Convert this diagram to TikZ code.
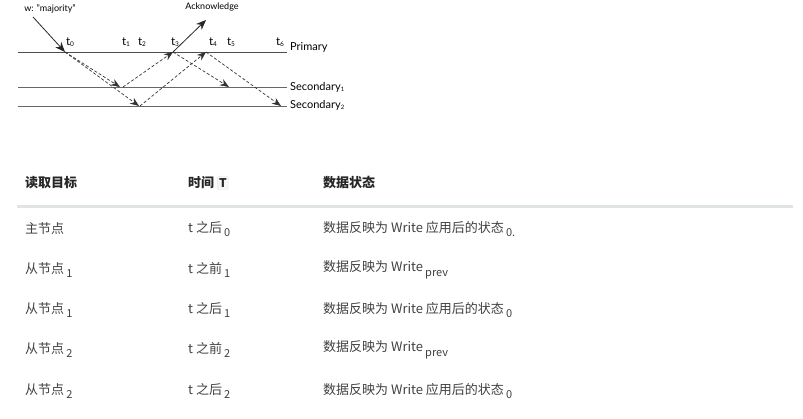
\documentclass[tikz,border=0pt]{standalone}
\usepackage{fontspec}
\setmainfont{Lato}
\newfontfamily\cjk{Noto Sans CJK SC}
\usetikzlibrary{arrows.meta}
\definecolor{txt}{HTML}{404040}
\definecolor{rulec}{HTML}{E1E4E5}
\definecolor{codebg}{HTML}{F5F6F6}
\tikzset{
  lane/.style={draw=black!70, line width=0.9pt},
  msg/.style={draw=black!80, dash pattern=on 3pt off 2pt, line width=0.7pt, -{Stealth[length=9pt,width=7pt]}},
  solidarr/.style={draw=black!85, line width=0.8pt, -{Stealth[length=10pt,width=8pt]}},
  dlabel/.style={font=\fontsize{11}{12}\selectfont, inner sep=0pt},
  tlabel/.style={font=\fontsize{11.5}{12}\selectfont, inner sep=0pt},
  cell/.style={anchor=west, inner sep=0pt, text=txt, font=\cjk\fontsize{13}{15}\selectfont},
  headcell/.style={anchor=west, inner sep=0pt, text=black!85, font=\cjk\bfseries\fontsize{13}{15}\selectfont},
}
\newcommand\tsub[1]{t\raisebox{-0.5pt}{\fontsize{6.5}{6.5}\selectfont #1}}
\newcommand\lsub[1]{\raisebox{-1.5pt}{\fontsize{6}{6}\selectfont #1}}
\newcommand\csub[1]{\,\raisebox{-4.5pt}{\fontsize{11}{11}\selectfont #1}}
\begin{document}
\begin{tikzpicture}[x=1pt,y=-1pt]
\useasboundingbox (0,0) rectangle (803,418);
% ---- diagram ----
\coordinate (pL) at (18,52);  \coordinate (pR) at (287,52);
\coordinate (s1L) at (18,87); \coordinate (s1R) at (287,87);
\coordinate (s2L) at (18,106); \coordinate (s2R) at (287,106);
\draw[lane] (pL) -- (pR);
\draw[lane,draw=black!60] (s1L) -- (s1R);
\draw[lane,draw=black!60] (s2L) -- (s2R);
\node[dlabel, anchor=west] (lp) at (290,47) {Primary};
\node[dlabel, anchor=west] (ls1) at (290,87) {Secondary\lsub{1}};
\node[dlabel, anchor=west] (ls2) at (290,105) {Secondary\lsub{2}};

\node[tlabel] (t0) at (70,42) {\tsub{0}};
\node[tlabel] (t1) at (126,42) {\tsub{1}};
\node[tlabel] (t2) at (142,42) {\tsub{2}};
\node[tlabel] (t3) at (175,42) {\tsub{3}};
\node[tlabel] (t4) at (213,42) {\tsub{4}};
\node[tlabel] (t5) at (231,42) {\tsub{5}};
\node[tlabel] (t6) at (280,42) {\tsub{6}};

\node[dlabel, font=\fontsize{9}{10}\selectfont] (w) at (50,9) {w: "majority"};
\node[dlabel, font=\fontsize{9}{10}\selectfont] (ack) at (212,7) {Acknowledge};
\coordinate (wstart) at (33,17);
\coordinate (acktip) at (206,20);

\coordinate (p0) at (65,52);
\coordinate (s1in) at (120,87);
\coordinate (s1out) at (123,87);
\coordinate (s2in) at (139,106);
\coordinate (s2out) at (140,106);
\coordinate (p3) at (173,52);
\coordinate (p4) at (206,52);
\coordinate (s1b) at (229,87);
\coordinate (s2b) at (281,106);

\draw[solidarr] (wstart) -- (p0);
\draw[solidarr] (p3) -- (acktip);
\draw[msg] (p0) -- (s1in);
\draw[msg] (p0) -- (s2in);
\draw[msg] (s1out) -- (p3);
\draw[msg] (s2out) -- (p4);
\draw[msg] (p3) -- (s1b);
\draw[msg] (p4) -- (s2b);

% ---- table ----
\node[headcell] (h1) at (25,183) {读取目标};
\node[headcell] (h2) at (188,183) {时间};
\node[anchor=west, draw=rulec, fill=codebg, rounded corners=1.5pt, inner xsep=1.5pt, inner ysep=2.5pt,
      text=black!85, font=\cjk\bfseries\fontsize{12}{14}\selectfont] (hT) at ([xshift=3pt]h2.east) {T};
\node[headcell] (h3) at (323,183) {数据状态};
\coordinate (rl) at (17,206); \coordinate (rr) at (793,206);
\draw[draw=rulec, line width=3pt] (rl) -- (rr);

\node[cell] (a1) at (25,229) {主节点};
\node[cell] (b1) at (188,229) {t 之后\csub{0}};
\node[cell] (c1) at (323,229) {数据反映为 Write 应用后的状态\csub{0.}};

\node[cell] (a2) at (25,270) {从节点\csub{1}};
\node[cell] (b2) at (188,270) {t 之前\csub{1}};
\node[cell] (c2) at (323,270) {数据反映为 Write\csub{prev}};

\node[cell] (a3) at (25,310) {从节点\csub{1}};
\node[cell] (b3) at (188,310) {t 之后\csub{1}};
\node[cell] (c3) at (323,310) {数据反映为 Write 应用后的状态\csub{0}};

\node[cell] (a4) at (25,350) {从节点\csub{2}};
\node[cell] (b4) at (188,350) {t 之前\csub{2}};
\node[cell] (c4) at (323,350) {数据反映为 Write\csub{prev}};

\node[cell] (a5) at (25,391) {从节点\csub{2}};
\node[cell] (b5) at (188,391) {t 之后\csub{2}};
\node[cell] (c5) at (323,391) {数据反映为 Write 应用后的状态\csub{0}};
\end{tikzpicture}
\end{document}
